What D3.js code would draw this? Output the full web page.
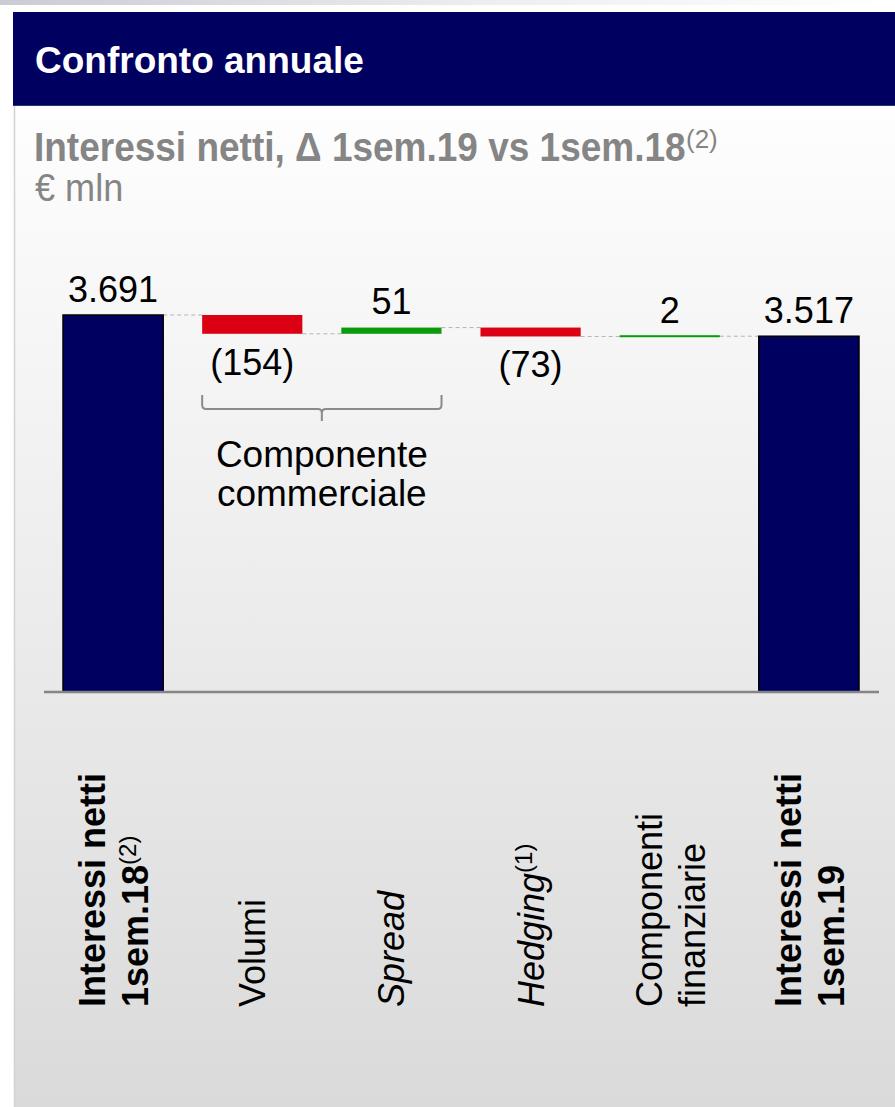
<!DOCTYPE html>
<html>
<head>
<meta charset="utf-8">
<script src="https://cdn.jsdelivr.net/npm/d3@7"></script>
<style>
  html, body { margin: 0; padding: 0; background: #fff; }
  svg { display: block; font-family: "Liberation Sans", Arial, sans-serif; }
</style>
</head>
<body>
<script>
// Net interest income bridge, 1H18 -> 1H19 (EUR mln)
const categories = ["ini18", "volumi", "spread", "hedging", "finanz", "ini19"];
const kinds = ["total", "delta", "delta", "delta", "delta", "total"];
const values = [3691, -154, 51, -73, 2, 3517];
const categoryLines = [
  ["Interessi netti", "1sem.18"],
  ["Volumi"],
  ["Spread"],
  ["Hedging"],
  ["Componenti", "finanziarie"],
  ["Interessi netti", "1sem.19"]
];
const categoryNotes = ["(2)", "", "", "(1)", "", ""];
const categoryBold = [true, false, false, false, false, true];
const categoryItalic = [false, false, true, true, false, false];
const groupLabel = ["Componente", "commerciale"];
const groupMembers = ["volumi", "spread"];

const W = 895, H = 1107;
const NAVY = "#000060", RED = "#dc0014", GREEN = "#0a9a0a";

const itLocale = d3.formatLocale({ decimal: ",", thousands: ".", grouping: [3], currency: ["€", ""] });
const fmt = itLocale.format(",d");
const labelOf = (v, k) => k === "total" ? fmt(v) : (v < 0 ? "(" + fmt(-v) + ")" : fmt(v));

// running totals for the waterfall
let run = 0;
const rows = categories.map((c, i) => {
  const v = values[i];
  let y0, y1;
  if (kinds[i] === "total") { y0 = 0; y1 = v; run = v; }
  else { y0 = run; y1 = run + v; run = y1; }
  return { c, i, v, kind: kinds[i], y0, y1, end: run };
});

const svg = d3.select("body").append("svg").attr("width", W).attr("height", H);
const defs = svg.append("defs");

const pg = defs.append("linearGradient").attr("id", "panelBg").attr("x1", 0).attr("y1", 0).attr("x2", 0).attr("y2", 1);
pg.append("stop").attr("offset", 0).attr("stop-color", "#fefefe");
pg.append("stop").attr("offset", 1).attr("stop-color", "#dadada");

const tg = defs.append("linearGradient").attr("id", "topStrip").attr("x1", 0).attr("y1", 0).attr("x2", 1).attr("y2", 0);
tg.append("stop").attr("offset", 0).attr("stop-color", "#c9ccd4");
tg.append("stop").attr("offset", 0.55).attr("stop-color", "#eceef0");
tg.append("stop").attr("offset", 1).attr("stop-color", "#ffffff");

// page frame
svg.append("rect").attr("x", 0).attr("y", 0).attr("width", W).attr("height", 5).attr("fill", "url(#topStrip)");
svg.append("rect").attr("x", 14).attr("y", 106).attr("width", W - 14).attr("height", H - 106).attr("fill", "url(#panelBg)");
svg.append("line").attr("x1", 14.5).attr("x2", 14.5).attr("y1", 106).attr("y2", H)
  .attr("stroke", "#d2d2d2").attr("stroke-width", 1.5);
svg.append("rect").attr("x", 13).attr("y", 12).attr("width", W - 13).attr("height", 94).attr("fill", NAVY);
svg.append("line").attr("x1", 13).attr("x2", W).attr("y1", 105.5).attr("y2", 105.5)
  .attr("stroke", "#1c3f6e").attr("stroke-width", 1);

svg.append("text").attr("x", 35).attr("y", 73).attr("fill", "#fff")
  .attr("font-size", 37).attr("font-weight", "bold").text("Confronto annuale");

// subtitle, set in a slightly condensed face
svg.append("text").attr("transform", "translate(34,161) scale(0.925,1)").attr("fill", "#858585")
  .attr("font-size", 40).attr("font-weight", "bold")
  .text("Interessi netti, \u0394 1sem.19 vs 1sem.18");
svg.append("text").attr("x", 686).attr("y", 148).attr("fill", "#858585")
  .attr("font-size", 26).text("(2)");

svg.append("text").attr("transform", "translate(35,201) scale(0.95,1)").attr("fill", "#858585")
  .attr("font-size", 38).text("€ mln");

// scales
const x = d3.scaleBand().domain(categories).range([63, 859]).paddingInner(0.28).paddingOuter(0);
const y = d3.scaleLinear().domain([600, d3.max(values)]).range([692, 315]);
const bw = x.bandwidth();

const barTop = d => y(Math.max(d.y0, d.y1));
const barBot = d => d.kind === "total" ? y.range()[0] : y(Math.min(d.y0, d.y1));

// connectors between consecutive bars
const g = svg.append("g");
g.selectAll("line.conn").data(rows.slice(0, -1)).join("line").attr("class", "conn")
  .attr("x1", d => x(d.c) + bw).attr("x2", d => x(rows[d.i + 1].c))
  .attr("y1", d => y(d.end)).attr("y2", d => y(d.end))
  .attr("stroke", "#b4b4b4").attr("stroke-width", 1).attr("stroke-dasharray", "4,3");

// bars
g.selectAll("rect.bar").data(rows).join("rect").attr("class", "bar")
  .attr("x", d => x(d.c))
  .attr("width", bw)
  .attr("y", d => {
    const h = barBot(d) - barTop(d);
    return h < 2 ? (y(d.end) - 1) : barTop(d);
  })
  .attr("height", d => Math.max(2, barBot(d) - barTop(d)))
  .attr("fill", d => d.kind === "total" ? NAVY : (d.v < 0 ? RED : GREEN))
  .attr("stroke", d => d.kind === "total" ? "#000" : "none")
  .attr("stroke-width", 1.5);

// baseline
svg.append("line").attr("x1", 44).attr("x2", 879).attr("y1", 692).attr("y2", 692)
  .attr("stroke", "#858585").attr("stroke-width", 2.5);

// value labels
g.selectAll("text.val").data(rows).join("text").attr("class", "val")
  .attr("x", d => x(d.c) + bw / 2)
  .attr("y", d => d.v < 0 ? barBot(d) + 41 : barTop(d) - 13.5)
  .attr("text-anchor", "middle").attr("font-size", 36).attr("fill", "#000")
  .text(d => labelOf(d.v, d.kind));

// brace grouping the commercial components
const bx0 = x(groupMembers[0]), bx1 = x(groupMembers[1]) + bw, bmid = (bx0 + bx1) / 2;
const by0 = 395, by1 = 409, by2 = 421, r = 4;
svg.append("path")
  .attr("d", `M${bx0},${by0} L${bx0},${by1 - r} Q${bx0},${by1} ${bx0 + r},${by1} L${bmid - r},${by1} Q${bmid},${by1} ${bmid},${by1 + r} L${bmid},${by2}
              M${bmid},${by1 + r} Q${bmid},${by1} ${bmid + r},${by1} L${bx1 - r},${by1} Q${bx1},${by1} ${bx1},${by1 - r} L${bx1},${by0}`)
  .attr("fill", "none").attr("stroke", "#8a8a8a").attr("stroke-width", 2);
const gl = svg.append("text").attr("text-anchor", "middle").attr("font-size", 37).attr("fill", "#000");
groupLabel.forEach((t, i) => gl.append("tspan").attr("x", bmid).attr("y", 467 + i * 38.5).text(t));

// rotated category labels
const cat = svg.append("g");
rows.forEach(d => {
  const lines = categoryLines[d.i];
  const cx = x(d.c) + bw / 2;
  const t = cat.append("text")
    .attr("transform", `translate(${cx},1007) rotate(-90)`)
    .attr("font-size", 36).attr("fill", "#000")
    .attr("font-weight", categoryBold[d.i] ? "bold" : "normal")
    .attr("font-style", categoryItalic[d.i] ? "italic" : "normal");
  const offs = lines.length === 1 ? [13] : [-8, 35];
  lines.forEach((ln, k) => {
    t.append("tspan").attr("x", 0).attr("y", offs[k]).text(ln);
    if (k === lines.length - 1 && categoryNotes[d.i]) {
      t.append("tspan").attr("font-size", 24).attr("font-weight", "normal").attr("font-style", "normal")
        .attr("dy", -12).text(categoryNotes[d.i]);
    }
  });
});
</script>
</body>
</html>
